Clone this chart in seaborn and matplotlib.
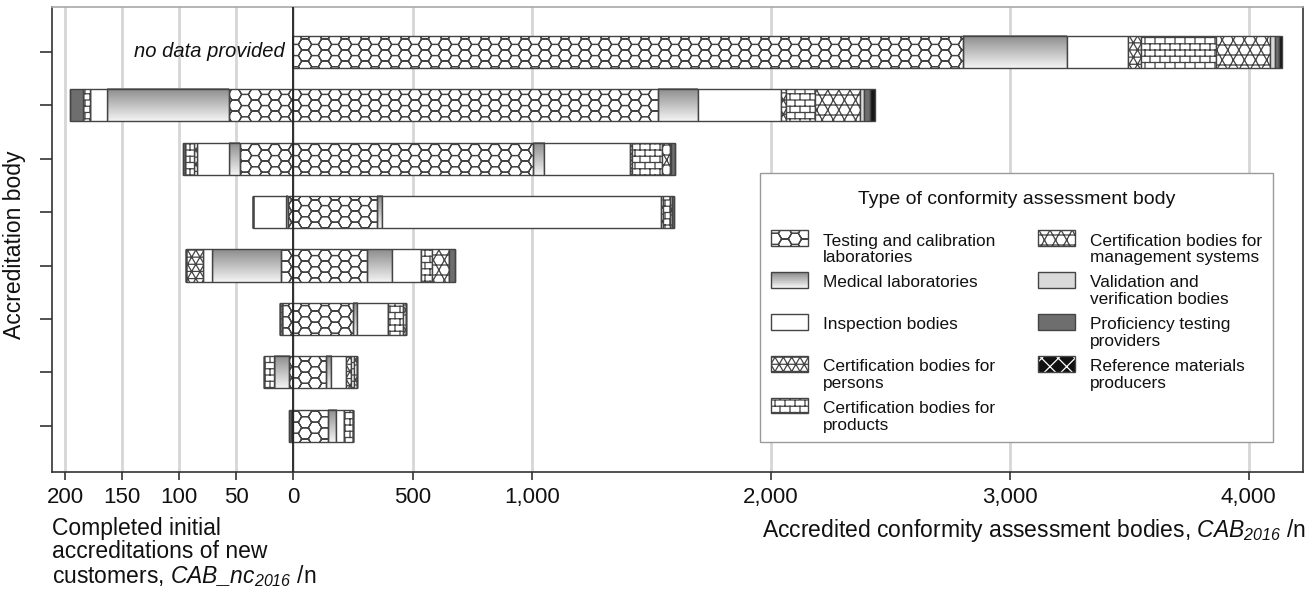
import numpy as np
import pandas as pd
import matplotlib
matplotlib.use("Agg")
import matplotlib.pyplot as plt
import matplotlib.hatch as mhatch
from matplotlib.path import Path
from matplotlib.patches import Rectangle, Patch
from matplotlib.legend_handler import HandlerBase
from matplotlib.colors import LinearSegmentedColormap
import seaborn as sns

# ---------------- data ----------------
bodies = ["AB1", "AB2", "AB3", "AB4", "AB5", "AB6", "AB7", "AB8"]
no_data = [True, False, False, False, False, False, False, False]

cab_types = ["Testing and calibration laboratories", "Medical laboratories", "Inspection bodies",
             "Certification bodies for persons", "Certification bodies for products",
             "Certification bodies for management systems", "Validation and verification bodies",
             "Proficiency testing providers", "Reference materials producers"]
legend_labels = ["Testing and calibration\nlaboratories", "Medical laboratories\n ", "Inspection bodies\n ",
                 "Certification bodies for\npersons", "Certification bodies for\nproducts",
                 "Certification bodies for\nmanagement systems", "Validation and\nverification bodies",
                 "Proficiency testing\nproviders", "Reference materials\nproducers"]

# accredited CABs 2016 (right side)
testing_2016 = [2806, 1528, 1002, 352, 307, 249, 136, 144]
medical_2016 = [433, 167, 49, 21, 107, 19, 21, 35]
inspection_2016 = [257, 346, 359, 1166, 120, 127, 63, 35]
persons_2016 = [53, 21, 10, 8, 0, 0, 20, 0]
products_2016 = [315, 121, 126, 30, 45, 65, 16, 38]
mgmt_2016 = [226, 191, 32, 8, 74, 14, 10, 0]
validation_2016 = [21, 14, 4, 0, 0, 0, 0, 0]
proficiency_2016 = [17, 29, 17, 8, 24, 0, 0, 0]
reference_2016 = [13, 17, 0, 0, 0, 0, 0, 0]

# completed initial accreditations of new customers 2016 (left side)
testing_nc = [0, 56, 47, 5, 11, 10, 3.5, 1]
medical_nc = [0, 107, 9, 1, 60, 0, 13.5, 0]
inspection_nc = [0, 15, 28, 29, 8, 0, 0, 0]
persons_nc = [0, 0, 3, 0, 15, 0, 0, 0]
products_nc = [0, 6, 8, 0, 0, 2, 8.5, 1]
mgmt_nc = [0, 0, 0, 0, 0, 0, 0, 0]
validation_nc = [0, 0, 0, 0, 0, 0, 0, 0]
proficiency_nc = [0, 12, 2, 0, 0, 0, 0, 1.5]
reference_nc = [0, 0, 0, 0, 0, 0, 0, 0]

left_ticks = [200, 150, 100, 50]
right_ticks = [0, 500, 1000, 2000, 3000, 4000]
right_tick_labels = ["0", "500", "1,000", "2,000", "3,000", "4,000"]

series_2016 = [testing_2016, medical_2016, inspection_2016, persons_2016, products_2016,
               mgmt_2016, validation_2016, proficiency_2016, reference_2016]
series_nc = [testing_nc, medical_nc, inspection_nc, persons_nc, products_nc,
             mgmt_nc, validation_nc, proficiency_nc, reference_nc]

K = 4.774  # scale factor of the left (new customers) half-axis

# ---------------- custom hatch patterns ----------------
def zigzag(nx, ny):
    a, h = 1.0 / nx, 1.0 / ny
    segs = []
    for r in range(-1, ny + 1):
        off = (r % 2) * a / 2
        y0, y1 = r * h, (r + 1) * h
        for j in range(-1, nx + 2):
            xb = j * a + off
            segs.append(((xb, y0), (xb + a / 2, y1)))
            segs.append(((xb + a / 2, y1), (xb + a, y0)))
    return segs


def honeycomb_flat(n_high=9, n_pitch=10):
    # flat-top honeycomb: column pitch along x, hex height along y
    w, h = 1.0 / n_high, 1.0 / n_pitch
    segs = []
    for r in range(-1, n_pitch + 1):
        for c in range(-1, n_high + 2):
            cx = c * w + (r % 2) * w / 2
            cy = (r + 0.5) * h
            pts = [(cx, cy + 2 * h / 3), (cx + w / 2, cy + h / 3), (cx + w / 2, cy - h / 3),
                   (cx, cy - 2 * h / 3), (cx - w / 2, cy - h / 3), (cx - w / 2, cy + h / 3)]
            for i in range(6):
                (x1, y1), (x2, y2) = pts[i], pts[(i + 1) % 6]
                segs.append(((y1, x1), (y2, x2)))  # transpose
    return segs


def triangles(nx=12, ny=14):
    segs = zigzag(nx, ny)
    for r in range(ny + 1):
        segs.append(((0, r / ny), (1, r / ny)))
    return segs


def kagome(nx=9, ny=10):
    segs = zigzag(nx, ny)
    for r in range(ny):
        y = (r + 0.5) / ny
        segs.append(((0, y), (1, y)))
    return segs


def bricks(nx=10, ny=16):
    segs = []
    for r in range(ny + 1):
        segs.append(((0, r / ny), (1, r / ny)))
    for r in range(ny):
        for c in range(-1, nx + 1):
            x = (c + 0.5 * (r % 2)) / nx
            segs.append(((x, r / ny), (x, (r + 1) / ny)))
    return segs


class SegmentHatch(mhatch.HatchPatternBase):
    char = None
    segs = None

    def __init__(self, hatch, density):
        self.num_vertices = 2 * len(self.segs) if (hatch and self.char in hatch) else 0

    def set_vertices_and_codes(self, vertices, codes):
        vertices[:] = self.segs.reshape(-1, 2)
        codes[0::2] = Path.MOVETO
        codes[1::2] = Path.LINETO


def make_hatch(char, segs):
    return type("Hatch_%d" % ord(char), (SegmentHatch,),
                {"char": char, "segs": np.asarray(segs, dtype=float)})


mhatch._hatch_types = [make_hatch("O", honeycomb_flat()), make_hatch("o", triangles()),
                       make_hatch("-", bricks()), make_hatch("*", kagome()),
                       mhatch.NorthEastHatch, mhatch.SouthEastHatch]

# ---------------- style ----------------
sns.set_style("ticks")
plt.rcParams["font.family"] = ["Liberation Sans", "DejaVu Sans"]
plt.rcParams["mathtext.fontset"] = "custom"
plt.rcParams["mathtext.rm"] = "Liberation Sans:italic"
plt.rcParams["mathtext.it"] = "Liberation Sans:italic"
plt.rcParams["hatch.linewidth"] = 0.9
plt.rcParams["text.color"] = "#111111"

EDGE = "#444444"
grad_cmap = LinearSegmentedColormap.from_list("grad", ["#8c8c8c", "#f3f3f3"])
styles = [
    dict(face="white", hatch="O"),
    dict(face="none", hatch=None, gradient=True),
    dict(face="white", hatch=None),
    dict(face="white", hatch="o"),
    dict(face="white", hatch="-"),
    dict(face="white", hatch="*"),
    dict(face="#d9d9d9", hatch=None),
    dict(face="#6e6e6e", hatch=None),
    dict(face="#161616", hatch=None),
]

fig = plt.figure(figsize=(13.15, 5.94), dpi=100)
ax = fig.add_axes([52 / 1315, 1 - 471.7 / 594, (1303 - 52) / 1315, (471.7 - 7) / 594])

grad = np.linspace(0, 1, 64).reshape(-1, 1)

for side, series in (("nc", series_nc), ("cab", series_2016)):
    cum = np.zeros(len(bodies))
    for vals, st in zip(series, styles):
        v = np.asarray(vals, dtype=float)
        if side == "nc":
            width = K * v
            left = -K * (cum + v)
        else:
            width = v
            left = cum.copy()
        d = pd.DataFrame({"body": bodies, "value": width})
        n0 = len(ax.patches)
        kw = dict(edgecolor=EDGE, linewidth=1.0, zorder=2)
        if st["hatch"]:
            kw["hatch"] = st["hatch"]
        sns.barplot(data=d, x="value", y="body", order=bodies, orient="y", ax=ax,
                    width=0.6, errorbar=None, saturation=1,
                    color="white", facecolor=st["face"], left=left, **kw)
        if st.get("gradient"):
            for p in ax.patches[n0:]:
                if p.get_width() > 0:
                    x0, y0 = p.get_x(), p.get_y()
                    w, h = p.get_width(), p.get_height()
                    ax.imshow(grad, extent=(x0, x0 + w, y0 + h, y0), origin="upper",
                              cmap=grad_cmap, aspect="auto", zorder=1.9,
                              interpolation="bilinear")
        cum += v

# zero line
ax.axvline(0, color="#222222", lw=1.3, zorder=3)

for i, nd in enumerate(no_data):
    if nd:
        ax.text(-35, i, "no data provided", ha="right", va="center", style="italic",
                fontsize=14.5, color="#111111")

# axes / ticks
ticks = [-K * t for t in left_ticks] + right_ticks
tick_labels = [str(t) for t in left_ticks] + right_tick_labels
ax.set_xlim(-1010, 4228)
ax.set_ylim(7.86, -0.84)
ax.set_xticks(ticks)
ax.set_xticklabels(tick_labels)
ax.set_yticks(range(len(bodies)))
ax.set_yticklabels([])
ax.set_xlabel("")
ax.set_ylabel("")
ax.tick_params(axis="x", length=6, width=1.2, color="#333333", labelsize=16, pad=5,
               labelcolor="#111111")
ax.tick_params(axis="y", length=9, width=1.2, color="#333333", labelleft=False)
ax.grid(axis="x", color="#d6d6d6", lw=2)
ax.set_axisbelow(True)
for s in ("left", "bottom", "right"):
    ax.spines[s].set_color("#333333")
    ax.spines[s].set_linewidth(1.2)
ax.spines["top"].set_color("#a8a8a8")
ax.spines["top"].set_linewidth(1.2)

# axis titles
fig.text(52 / 1315, 1 - 517 / 594,
         "Completed initial\naccreditations of new\ncustomers, $CAB\\_nc_{2016}$ /n",
         ha="left", va="top", fontsize=16.5, linespacing=1.0)
fig.text(1306 / 1315, 1 - 517 / 594,
         "Accredited conformity assessment bodies, $CAB_{2016}$ /n",
         ha="right", va="top", fontsize=16.5)
fig.text(15 / 1315, 1 - 245 / 594, "Accreditation body", rotation=90,
         ha="center", va="center", fontsize=16.5)


# ---------------- legend ----------------
class TopBoxHandler(HandlerBase):
    def __init__(self, y0=0.55, h=0.9):
        super().__init__()
        self.y0 = y0
        self.h = h

    def create_artists(self, legend, orig_handle, xdescent, ydescent, width, height,
                       fontsize, trans):
        x = -xdescent
        y = -ydescent + self.y0 * fontsize
        hh = self.h * fontsize
        arts = []
        if getattr(orig_handle, "gradient", False):
            n = 24
            for i in range(n):
                arts.append(Rectangle((x, y + hh * (1 - (i + 1) / n)), width, hh / n + 0.05,
                                      facecolor=grad_cmap(i / (n - 1)), edgecolor="none",
                                      lw=0, transform=trans))
        else:
            arts.append(Rectangle((x, y), width, hh, facecolor=orig_handle.get_facecolor(),
                                  edgecolor=orig_handle.get_edgecolor(),
                                  hatch=orig_handle.get_hatch(), lw=0, transform=trans))
        arts.append(Rectangle((x, y), width, hh, facecolor="none", edgecolor=EDGE,
                              lw=1.0, transform=trans))
        return arts


handles = []
for st in styles:
    face = st["face"] if st["face"] != "none" else "white"
    hp = Patch(facecolor=face, edgecolor=EDGE, hatch=st["hatch"])
    hp.gradient = bool(st.get("gradient"))
    handles.append(hp)
# reference materials icon: black with white weave
handles[-1] = Patch(facecolor="#111111", edgecolor="white", hatch="xx")
handles[-1].gradient = False

# legend frame (fixed box)
frame = Rectangle((760 / 1315, 1 - 442 / 594), 513 / 1315, 269 / 594, transform=fig.transFigure,
                  facecolor="white", edgecolor="#9a9a9a", lw=1.0, zorder=4.5, clip_on=False)
ax.add_patch(frame)

leg = ax.legend(handles, legend_labels, ncol=2, loc="upper left",
                bbox_to_anchor=(760 / 1315, 1 - 180 / 594), bbox_transform=fig.transFigure,
                borderaxespad=0, frameon=False, fontsize=12.4,
                title="Type of conformity assessment body\n ",
                title_fontsize=14, handlelength=2.15, handletextpad=0.85,
                columnspacing=2.5, labelspacing=0.6, borderpad=0.65,
                handler_map={Patch: TopBoxHandler()})
for t in leg.get_texts():
    t.set_linespacing(1.13)
leg.get_title().set_linespacing(0.85)
leg.set_zorder(5)

fig.savefig("out.png", dpi=100)
